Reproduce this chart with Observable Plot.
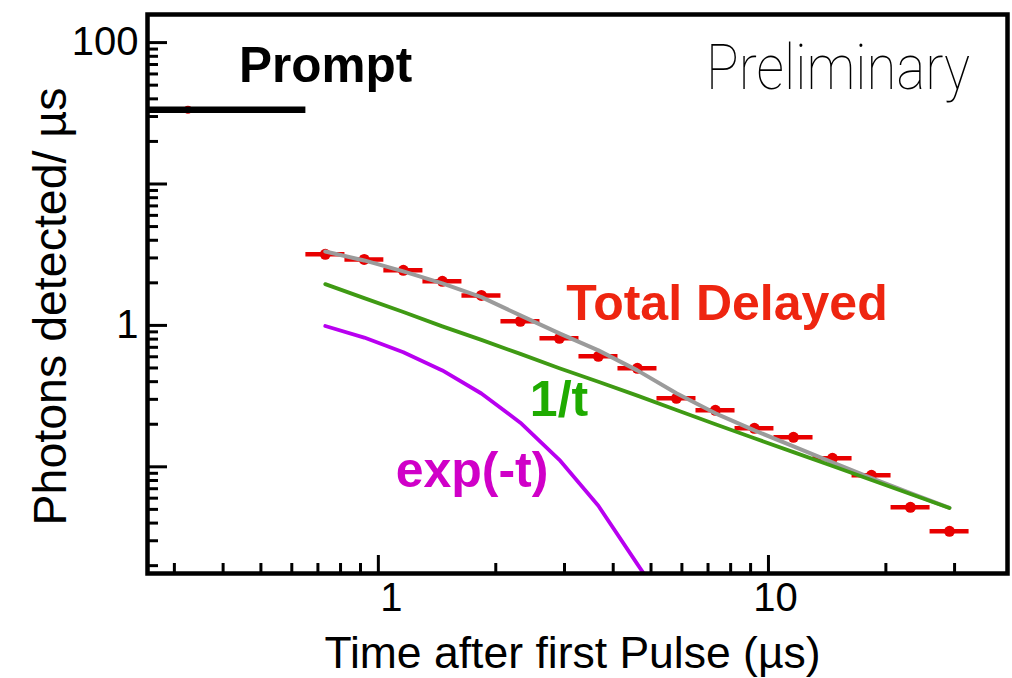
<!DOCTYPE html>
<html><head><meta charset="utf-8">
<script src="https://cdn.jsdelivr.net/npm/d3@7"></script>
<script src="https://cdn.jsdelivr.net/npm/@observablehq/plot@0.6"></script>
<style>body{margin:0;background:#fff} #chart{width:1012px;height:678px}</style>
</head><body><div id="chart"></div>
<script>
// ---- data ----
const binCenters = [0.731, 0.920, 1.159, 1.459, 1.837, 2.312, 2.911, 3.664, 4.613, 5.808, 7.311, 9.204, 11.59, 14.59, 18.37, 23.12, 29.11];
const binEdges   = [0.652, 0.821, 1.033, 1.301, 1.638, 2.062, 2.596, 3.268, 4.114, 5.179, 6.52, 8.21, 10.33, 13.01, 16.38, 20.62, 25.96, 32.68];
const delayed    = [3.18, 2.93, 2.45, 2.05, 1.63, 1.07, 0.81, 0.604, 0.497, 0.305, 0.251, 0.187, 0.1616, 0.1148, 0.0871, 0.0517, 0.035];
const totalFit   = [3.33, 2.88, 2.41, 1.98, 1.585, 1.177, 0.878, 0.666, 0.481, 0.331, 0.239, 0.181, 0.1396, 0.1076, 0.0831, 0.0651, 0.0513];
const oneOverT   = [1.958, 1.559, 1.244, 0.984, 0.790, 0.629, 0.498, 0.3995, 0.3186, 0.2524, 0.200, 0.1593, 0.127, 0.1012, 0.0807, 0.0643, 0.0512];
const expTerm    = [0.99, 0.82, 0.645, 0.48, 0.33, 0.205, 0.112, 0.053, 0.0205, 0.008];
const promptEdges = [0.2, 0.652];
const promptCenter = [0.325];
const promptValue = [33.5];

const yMajor = [0.1, 1, 10, 100];
const yLabels = [1, 100];
const xMajor = [1, 10];
const xMinor = [0.3, 0.4, 0.5, 0.6, 0.7, 0.8, 0.9, 2, 3, 4, 5, 6, 7, 8, 9, 20, 30];
const yMinor = [0.02,0.03,0.04,0.05,0.06,0.07,0.08,0.09, 0.2,0.3,0.4,0.5,0.6,0.7,0.8,0.9, 2,3,4,5,6,7,8,9, 20,30,40,50,60,70,80,90];

// ---- tables ----
const delayedTable = binCenters.map((t, i) => ({t, lo: binEdges[i], hi: binEdges[i + 1], v: delayed[i], fit: totalFit[i], inv: oneOverT[i]}));
const expTable = expTerm.map((v, i) => ({t: binCenters[i], v}));
const promptTable = [{t: promptCenter[0], v: promptValue[0], lo: promptEdges[0], hi: promptEdges[1]}];

const RED = "#e80000";
const blank = () => "";
const bold = {fontWeight: "bold", textAnchor: "middle", frameAnchor: "top-left", lineAnchor: "middle"};

const plot = Plot.plot({
  width: 1012, height: 678,
  marginLeft: 147, marginRight: 5, marginTop: 14, marginBottom: 105,
  x: {type: "log", domain: [0.256, 41]},
  y: {type: "log", domain: [0.0176, 158]},
  style: {fontFamily: "'Liberation Sans', Arial, Helvetica, sans-serif", background: "white", color: "black"},
  marks: [
    Plot.dot(promptTable, {x: "t", y: "v", r: 4, fill: RED}),
    Plot.ruleY(promptTable, {y: "v", x1: "lo", x2: "hi", stroke: "black", strokeWidth: 6.5, clip: true}),
    Plot.ruleY(delayedTable, {y: "v", x1: "lo", x2: "hi", stroke: RED, strokeWidth: 4.5}),
    Plot.dot(delayedTable, {x: "t", y: "v", r: 5.5, fill: RED}),
    Plot.line(delayedTable, {x: "t", y: "fit", stroke: "#9b9b9b", strokeWidth: 4}),
    Plot.line(delayedTable, {x: "t", y: "inv", stroke: "#3f9a14", strokeWidth: 3.8}),
    Plot.line(expTable, {x: "t", y: "v", stroke: "#b800f0", strokeWidth: 3.8, clip: true}),
    Plot.frame({stroke: "black", strokeWidth: 4.5}),
    Plot.axisY(yMinor, {anchor: "left", tickSize: -11, strokeWidth: 3, tickFormat: blank, label: null}),
    Plot.axisY(yMajor, {anchor: "left", tickSize: -20, strokeWidth: 3, tickFormat: blank, label: null}),
    Plot.axisY(yLabels, {anchor: "left", tickSize: 0, tickPadding: 9, fontSize: 40, tickFormat: d => String(d), label: null}),
    Plot.axisX(xMinor, {anchor: "bottom", tickSize: -10, strokeWidth: 3, tickFormat: blank, label: null}),
    Plot.axisX(xMajor, {anchor: "bottom", tickSize: -18, strokeWidth: 3, tickFormat: blank, label: null}),
    Plot.axisX([1], {anchor: "bottom", tickSize: 0, tickPadding: 9, dx: 13, fontSize: 40, tickFormat: d => String(d), label: null}),
    Plot.axisX([10], {anchor: "bottom", tickSize: 0, tickPadding: 9, dx: 7, fontSize: 40, tickFormat: d => String(d), label: null}),
    Plot.text(["Time after first Pulse (µs)"], {text: d => d, frameAnchor: "bottom-left", dx: 425, dy: 94, lineAnchor: "bottom", textAnchor: "middle", fontSize: 44.5}),
    Plot.text(["Photons detected/ µs"], {text: d => d, frameAnchor: "top-left", dx: -82, dy: 292, lineAnchor: "bottom", textAnchor: "middle", rotate: -90, fontSize: 46.5}),
    Plot.text(["Prompt"], {text: d => d, ...bold, dx: 178, dy: 52, fontSize: 49.5, fill: "black"}),
    Plot.text(["Preliminary"], {text: d => d, textAnchor: "middle", frameAnchor: "top-left", lineAnchor: "middle", dx: 690.5, dy: 54, fontSize: 63, fontWeight: 100, fontFamily: "Roboto", fill: "black"}),
    Plot.text(["Total Delayed"], {text: d => d, ...bold, dx: 579.5, dy: 289.5, fontSize: 50, fill: "#ee2510"}),
    Plot.text(["1/t"], {text: d => d, ...bold, dx: 411.5, dy: 385.5, fontSize: 50, fill: "#1fab00"}),
    Plot.text(["exp(-t)"], {text: d => d, ...bold, dx: 324.5, dy: 456, fontSize: 50, fill: "#d000c8"})
  ]
});
document.getElementById("chart").appendChild(plot);
d3.select(plot).selectAll("text").filter(function () { return this.textContent === "Preliminary"; })
  .attr("textLength", 264).attr("lengthAdjust", "spacingAndGlyphs");
</script>
</body></html>
